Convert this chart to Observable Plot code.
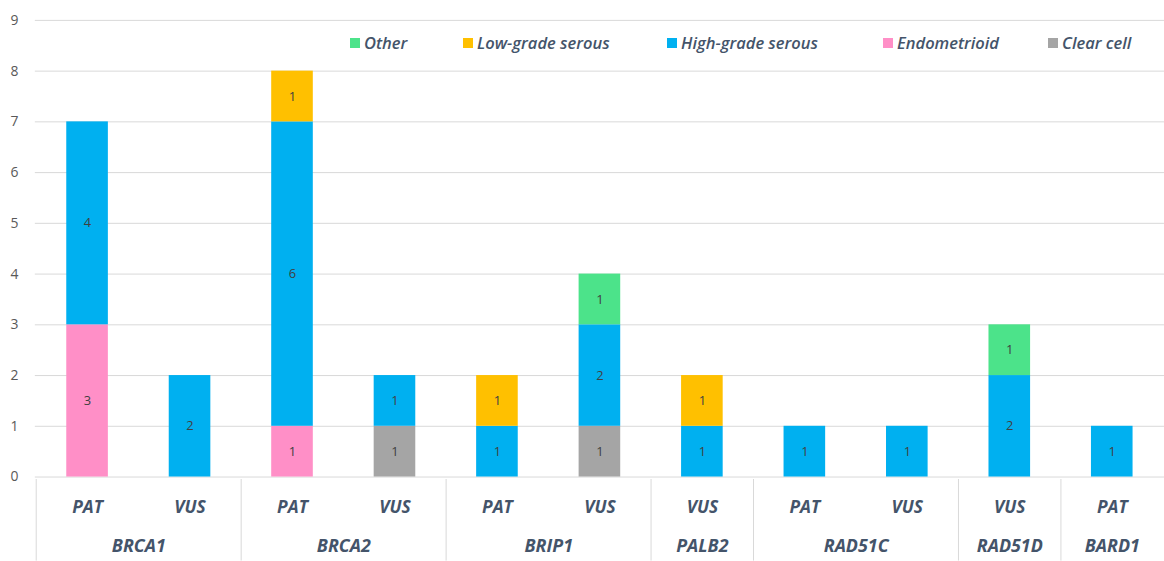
<!DOCTYPE html>
<html>
<head>
<meta charset="utf-8">
<script src="https://cdn.jsdelivr.net/npm/d3@7"></script>
<script src="https://cdn.jsdelivr.net/npm/@observablehq/plot@0.6"></script>
<style>
  html, body { margin: 0; padding: 0; background: #fff; }
  #wrap { position: relative; width: 1164px; height: 561px; overflow: hidden; font-family: "Open Sans", sans-serif; background: #fff; }
  #wrap svg { display: block; }
  #bottom { position: absolute; left: 0; top: 479px; }
  #legend { position: absolute; left: 0; top: 0; width: 1164px; height: 80px;
            font-family: "Open Sans", sans-serif; font-style: italic; font-weight: 600; font-size: 16.5px; color: #44546A; }
  #legend .item { position: absolute; top: 31px; display: flex; align-items: center; white-space: nowrap; }
  #legend .sw { width: 10px; height: 10px; margin-right: 4px; }
</style>
</head>
<body>
<div id="wrap"><div id="bottom"></div><div id="legend"></div></div>
<script>
// ---- data ----
const genes   = ["BRCA1","BRCA1","BRCA2","BRCA2","BRIP1","BRIP1","PALB2","RAD51C","RAD51C","RAD51D","BARD1"];
const classes = ["PAT","VUS","PAT","VUS","PAT","VUS","VUS","PAT","VUS","VUS","PAT"];
const clearCell    = [0,0,0,1,0,1,0,0,0,0,0];
const endometrioid = [3,0,1,0,0,0,0,0,0,0,0];
const highGrade    = [4,2,6,1,1,2,1,1,1,2,1];
const lowGrade     = [0,0,1,0,1,0,1,0,0,0,0];
const other        = [0,0,0,0,0,1,0,0,0,1,0];
const types  = ["Clear cell","Endometrioid","High-grade serous","Low-grade serous","Other"];
const colors = ["#A5A5A5","#FF8FC7","#00B0F0","#FFC000","#4CE38A"];
const legendOrder = ["Other","Low-grade serous","High-grade serous","Endometrioid","Clear cell"];
const yTicks = [0,1,2,3,4,5,6,7,8,9];

// ---- build tables ----
const series = [clearCell, endometrioid, highGrade, lowGrade, other];
const keys = genes.map((g, i) => g + " " + classes[i]);
const rows = [];
keys.forEach((k, i) => types.forEach((t, j) => {
  if (series[j][i] > 0) rows.push({key: k, type: t, value: series[j][i]});
}));
const classRows = keys.map((k, i) => ({key: k, cls: classes[i]}));
const groups = [];
genes.forEach((g, i) => {
  if (!groups.length || groups[groups.length - 1].gene !== g) groups.push({gene: g, first: keys[i], n: 1});
  else groups[groups.length - 1].n++;
});

// ---- layout ----
const W = 1170, ML = 35, MR = 0;
const step = (W - ML - MR) / keys.length;
const barW = 42;
const inset = (step - barW) / 2;
const xScale = {type: "band", domain: keys, padding: 0, axis: null};
const colorScale = {domain: types, range: colors};
const axisColor = "#44546A";

const main = Plot.plot({
  width: W, height: 561,
  marginLeft: ML, marginRight: MR, marginTop: 20, marginBottom: 82,
  style: {fontFamily: "Open Sans, sans-serif", fontSize: "14px", color: "#595959", background: "#fff"},
  x: xScale,
  y: {domain: [0, 9], ticks: yTicks, label: null, tickSize: 0, tickPadding: 17},
  color: colorScale,
  marks: [
    Plot.gridY(yTicks, {stroke: "#D9D9D9", strokeOpacity: 1}),
    Plot.barY(rows, Plot.stackY({x: "key", y: "value", fill: "type", order: types, insetLeft: inset, insetRight: inset})),
    Plot.text(rows, Plot.stackY({x: "key", y: "value", z: "type", order: types, text: "value", fill: "#404040", fontSize: 13}))
  ]
});

const bottom = Plot.plot({
  width: W, height: 82,
  marginLeft: ML, marginRight: MR, marginTop: 0, marginBottom: 0,
  style: {fontFamily: "Open Sans, sans-serif", background: "transparent"},
  x: xScale,
  marks: [
    Plot.ruleX(groups, {x: "first", dx: -step / 2, stroke: "#D9D9D9"}),
    Plot.text(classRows, {x: "key", text: "cls", frameAnchor: "top", lineAnchor: "middle", dy: 28, fill: axisColor, fontSize: 17.5, fontWeight: "bold", fontStyle: "italic"}),
    ...groups.map(g => Plot.text([g], {x: "first", text: "gene", frameAnchor: "top", lineAnchor: "middle", dy: 67, dx: (g.n - 1) * step / 2, fill: axisColor, fontSize: 18, fontWeight: "bold", fontStyle: "italic"}))
  ]
});

const wrap = document.getElementById("wrap");
wrap.insertBefore(main, wrap.firstChild);
document.getElementById("bottom").appendChild(bottom);

const legendLeft = [350, 463, 667, 883, 1048];
const legend = document.getElementById("legend");
legendOrder.forEach((t, i) => {
  const it = document.createElement("div");
  it.className = "item";
  it.style.left = legendLeft[i] + "px";
  const sw = document.createElement("span");
  sw.className = "sw";
  sw.style.background = colors[types.indexOf(t)];
  const lb = document.createElement("span");
  lb.textContent = t;
  it.appendChild(sw); it.appendChild(lb);
  legend.appendChild(it);
});
</script>
</body>
</html>
